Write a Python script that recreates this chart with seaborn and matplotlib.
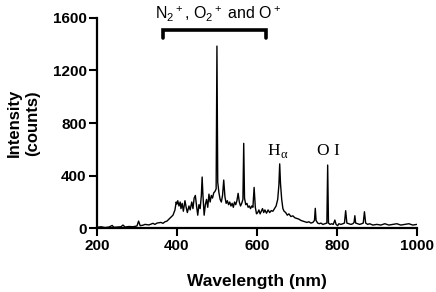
import pandas as pd
import matplotlib
matplotlib.use("Agg")
import matplotlib.pyplot as plt
import seaborn as sns

# Emission spectrum (wavelength in nm, intensity in counts)
wavelength = [
    200, 210, 220, 230, 238, 242, 250, 260, 265, 270, 280, 290, 300, 304, 308,
    315, 320, 330, 340, 345, 350, 360, 365, 370, 375, 380, 385, 390, 395, 398,
    400, 402, 405, 408, 410, 413, 416, 420, 423, 426, 430, 433, 437, 440, 443,
    446, 449, 452, 455, 458, 461, 463, 465, 468, 471, 474, 477, 480, 483, 486,
    489, 492, 495, 498, 500, 502, 505, 508, 511, 514, 517, 520, 523, 526, 529,
    532, 535, 538, 541, 544, 547, 550, 553, 556, 559, 562, 565, 567, 569, 572,
    575, 578, 581, 584, 587, 590, 593, 596, 599, 602, 605, 608, 611, 614, 617,
    620, 624, 628, 632, 636, 640, 644, 648, 652, 655, 657, 659, 662, 665, 668,
    672, 676, 680, 685, 690, 695, 700, 705, 710, 715, 720, 725, 730, 735, 740,
    744, 746, 748, 752, 756, 760, 765, 770, 775, 777, 779, 783, 787, 791, 795,
    798, 802, 805, 810, 815, 819, 822, 825, 830, 835, 840, 843, 845, 847, 852,
    857, 862, 866, 869, 872, 877, 882, 890, 900, 910, 920, 930, 940, 950, 960,
    970, 980, 990, 1000,
]
intensity = [
    8, 12, 6, 10, 22, 8, 10, 12, 25, 10, 14, 12, 18, 55, 20,
    24, 30, 26, 38, 30, 40, 45, 38, 50, 55, 70, 85, 100, 140, 200,
    185, 210, 170, 200, 150, 190, 130, 210, 160, 120, 170, 140, 200, 150, 230,
    250, 170, 100, 180, 150, 250, 390, 250, 100, 180, 220, 160, 260, 200, 250,
    230, 270, 280, 300, 1385, 350, 270, 220, 200, 250, 367, 240, 190, 210, 180,
    200, 170, 190, 160, 200, 180, 210, 266, 200, 170, 190, 220, 646, 230, 180,
    190, 160, 170, 150, 170, 160, 311, 160, 110, 120, 140, 110, 130, 150, 120,
    140, 115, 140, 120, 135, 130, 150, 170, 220, 330, 490, 340, 220, 150, 130,
    120, 100, 110, 90, 95, 80, 75, 70, 60, 55, 50, 45, 50, 40, 45,
    60, 152, 60, 40, 35, 40, 30, 35, 40, 481, 40, 30, 35, 30, 63,
    30, 20, 35, 30, 35, 40, 134, 40, 35, 30, 35, 45, 96, 40, 35,
    30, 35, 40, 126, 40, 30, 35, 25, 30, 25, 35, 25, 30, 35, 25,
    30, 35, 25, 30,
]

x_ticks = [200, 400, 600, 800, 1000]
y_ticks = [0, 400, 800, 1200, 1600]

sns.set_style("ticks")
plt.rcParams["font.family"] = ["Liberation Sans", "DejaVu Sans"]
plt.rcParams["mathtext.fontset"] = "custom"
plt.rcParams["mathtext.rm"] = "Liberation Sans"
plt.rcParams["mathtext.it"] = "Liberation Sans:italic"
for key in ("text.color", "axes.labelcolor", "xtick.color", "ytick.color", "axes.edgecolor"):
    plt.rcParams[key] = "black"

df = pd.DataFrame({"wavelength": wavelength, "intensity": intensity})

fig = plt.figure(figsize=(4.36, 2.92), dpi=100)
ax = fig.add_axes([0.2225, 0.218, 0.7335, 0.721])

sns.lineplot(data=df, x="wavelength", y="intensity", ax=ax,
             color="black", linewidth=1.0)

ax.set_xlim(200, 1000)
ax.set_ylim(0, 1600)
ax.set_xticks(x_ticks)
ax.set_yticks(y_ticks)
ax.tick_params(axis="both", length=6, width=1.5, pad=1.5, labelsize=11)
for lab in ax.get_xticklabels() + ax.get_yticklabels():
    lab.set_fontweight("bold")

sns.despine(ax=ax)
for side in ("left", "bottom"):
    ax.spines[side].set_linewidth(1.6)

ax.set_xlabel("Wavelength (nm)", fontsize=12.5, fontweight="bold", labelpad=15)
ax.set_ylabel("Intensity\n(counts)", fontsize=12, fontweight="bold", labelpad=9,
              linespacing=1.3)

# bracket marking the molecular-ion band region
ax.plot([365, 365, 622, 622], [1448, 1507, 1507, 1448], color="black",
        linewidth=2.6, solid_joinstyle="miter", clip_on=False)
ax.text(502, 1625, r"N$_2$$^+$, O$_2$$^+$ and O$^+$", ha="center", va="center",
        fontsize=11.5, clip_on=False)

serif = ["Liberation Serif", "DejaVu Serif"]
ax.text(658, 590, "H", ha="right", va="center", fontsize=12.5, family=serif)
ax.text(658, 555, "α", ha="left", va="center", fontsize=9, family=serif)
ax.text(779, 590, "O I", ha="center", va="center", fontsize=12.5, family=serif)

fig.savefig("out.png", dpi=100)
